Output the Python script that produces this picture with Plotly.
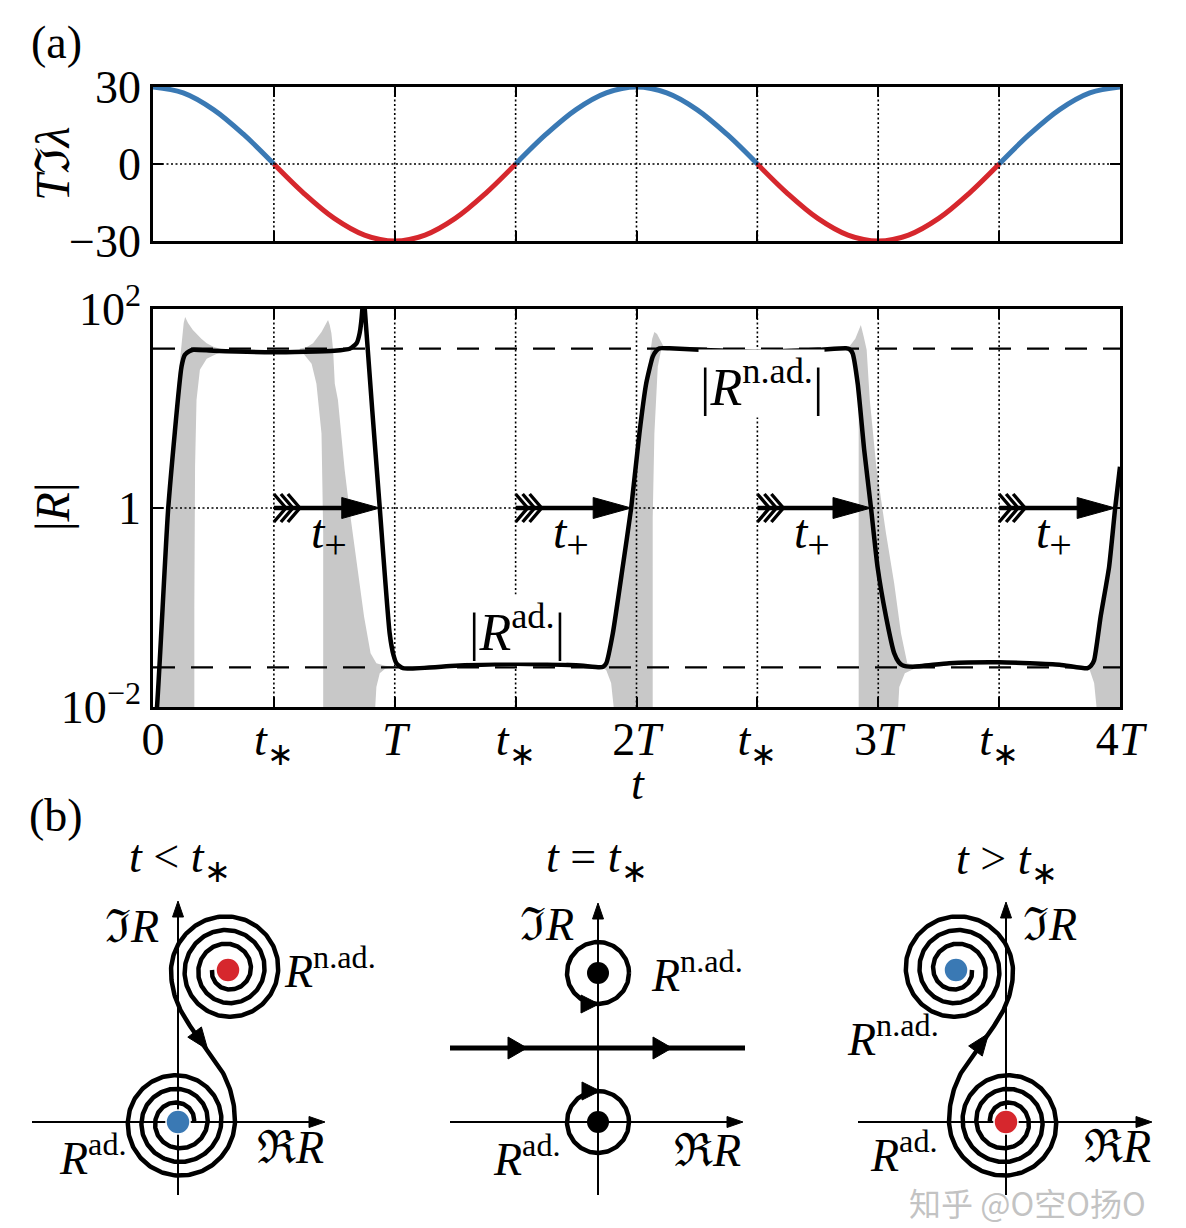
import numpy as np
import plotly.graph_objects as go

W, H = 1186, 1228
FONT = "Liberation Serif"
BLUE = "#3a79b4"
RED = "#d6272d"
GRAY = "#c8c8c8"

# ---------------- panel (a) top : T*Im(lambda) versus t (in units of T)
lam_t = [0, 0.125, 0.25, 0.375, 0.5, 0.625, 0.75, 0.875, 1.0,
         1.125, 1.25, 1.375, 1.5, 1.625, 1.75, 1.875, 2.0,
         2.125, 2.25, 2.375, 2.5, 2.625, 2.75, 2.875, 3.0,
         3.125, 3.25, 3.375, 3.5, 3.625, 3.75, 3.875, 4.0]
lam_val = [30, 27.7, 21.2, 11.5, 0, -11.5, -21.2, -27.7, -30,
           -27.7, -21.2, -11.5, 0, 11.5, 21.2, 27.7, 30,
           27.7, 21.2, 11.5, 0, -11.5, -21.2, -27.7, -30,
           -27.7, -21.2, -11.5, 0, 11.5, 21.2, 27.7, 30]

# ---------------- panel (a) bottom : |R| (log10 values)
R_t = [0.0, 0.015, 0.063, 0.118, 0.132, 0.150, 0.167, 0.25, 0.5, 0.75, 0.814,
       0.842, 0.855, 0.866, 0.871, 0.876, 0.938, 0.979, 0.995, 1.007, 1.034,
       1.25, 1.5, 1.75, 1.847, 1.862, 1.875, 1.902, 1.943, 1.978, 2.012, 2.04,
       2.067, 2.082, 2.095, 2.136, 2.26, 2.5, 2.75, 2.866, 2.882, 2.894, 2.915,
       2.942, 2.97, 2.997, 3.032, 3.066, 3.085, 3.1, 3.142, 3.293, 3.5, 3.75,
       3.865, 3.88, 3.893, 3.92, 3.955, 3.98, 4.0]
R_log = [-2.3, -2.05, 0.0, 1.42, 1.54, 1.575, 1.59, 1.58, 1.565, 1.58, 1.60,
         1.655, 1.76, 2.0, 2.3, 2.0, 0.0, -1.26, -1.48, -1.56, -1.61,
         -1.585, -1.565, -1.58, -1.60, -1.595, -1.56, -1.26, -0.59, 0.0, 0.75, 1.25,
         1.52, 1.58, 1.605, 1.605, 1.59, 1.57, 1.59, 1.605, 1.595, 1.555, 1.25,
         0.58, 0.0, -0.59, -1.09, -1.46, -1.55, -1.58, -1.595, -1.56, -1.55, -1.575,
         -1.61, -1.585, -1.53, -1.09, -0.59, 0.0, 0.415]
R_adiabatic = 0.025
R_nonadiabatic = 40

# grey bands (boundary outlines, t and log10|R|)
band1_t = [0.018, 0.06, 0.10, 0.118, 0.127, 0.133, 0.145, 0.165, 0.18, 0.20, 0.222,
           0.25, 0.277, 0.30, 0.30, 0.26, 0.222, 0.194, 0.18, 0.174, 0.171, 0.171]
band1_l = [-2.1, 0.0, 1.2, 1.65, 1.86, 1.92, 1.86, 1.79, 1.75, 1.70, 1.655,
           1.62, 1.60, 1.59, 1.58, 1.545, 1.50, 1.39, 1.085, 0.415, -1.0, -2.1]
band2_t = [0.704, 0.704, 0.697, 0.676, 0.656, 0.621, 0.607, 0.607, 0.635, 0.662,
           0.697, 0.712, 0.724, 0.731, 0.738, 0.745, 0.752, 0.765, 0.793, 0.812,
           0.843, 0.873, 0.9, 0.924, 0.96, 1.0, 0.96, 0.938, 0.924, 0.917]
band2_l = [-2.1, -0.25, 0.75, 1.25, 1.45, 1.555, 1.575, 1.60, 1.615, 1.655,
           1.77, 1.84, 1.89, 1.84, 1.756, 1.59, 1.25, 1.085, 0.38, 0.0,
           -0.55, -1.09, -1.46, -1.56, -1.585, -1.595, -1.615, -1.66, -1.80, -2.1]
band3_t = [1.91, 1.895, 1.875, 1.86, 1.875, 1.902, 1.943, 1.978, 2.012, 2.04,
           2.055, 2.065, 2.074, 2.085, 2.095, 2.11, 2.116, 2.102, 2.088, 2.074,
           2.067, 2.067]
band3_l = [-2.1, -1.76, -1.63, -1.60, -1.57, -1.26, -0.59, 0.0, 0.75, 1.25,
           1.5, 1.7, 1.77, 1.75, 1.70, 1.63, 1.605, 1.59, 1.42, 0.75,
           -0.1, -2.1]
band4_t = [2.919, 2.919, 2.915, 2.905, 2.895, 2.88, 2.905, 2.918, 2.928, 2.94,
           2.952, 2.965, 2.992, 3.032, 3.066, 3.094, 3.12, 3.17, 3.11, 3.087, 3.08]
band4_l = [-2.1, 1.085, 1.3, 1.5, 1.57, 1.62, 1.70, 1.79, 1.84, 1.72,
           1.59, 1.085, 0.415, -0.255, -0.76, -1.26, -1.56, -1.59, -1.66, -1.80, -2.1]
band5_t = [3.86, 3.893, 3.92, 3.955, 3.98, 4.0, 4.0, 3.907, 3.893, 3.875]
band5_l = [-1.605, -1.53, -1.09, -0.59, 0.0, 0.415, -2.1, -2.1, -1.76, -1.63]

arrow_tstar = [0.5, 1.5, 2.5, 3.5]
arrow_tip = [0.938, 1.978, 2.97, 3.98]

x_tickvals = [0, 0.5, 1, 1.5, 2, 2.5, 3, 3.5, 4]
TS = "<i>t</i><sub>∗</sub>"
x_ticktext = ["0", TS, "<i>T</i>", TS, "2<i>T</i>", TS, "3<i>T</i>", TS, "4<i>T</i>"]
top_tickvals = [-30, 0, 30]
top_ticktext = ["−30", "0", "30"]
bot_tickvals = [0.01, 1, 100]
bot_ticktext = ["10<sup>−2</sup>", "1", "10<sup>2</sup>"]

# ---------------- geometry helpers
XL, XR = 153, 1120            # plot frame, pixels
TOP_Y0, TOP_Y1 = 87, 241
BOT_Y0, BOT_Y1 = 309, 707
PX_T = (XR - XL) / 4.0
PX_DEC = (BOT_Y1 - BOT_Y0) / 4.0


def px(x):
    return x / W


def py(y):
    return 1 - y / H


def dt(p):
    return p / PX_T


def fy(p):
    return 10 ** (p / PX_DEC)


fig = go.Figure()

# ---------- top panel curve, split by sign
bx, by, rx, ry = [], [], [], []
for i in range(len(lam_t) - 1):
    mid = lam_val[i] + lam_val[i + 1]
    tx, ty = (bx, by) if mid > 0 else (rx, ry)
    if tx and tx[-1] == lam_t[i]:
        tx.append(lam_t[i + 1]); ty.append(lam_val[i + 1])
    else:
        if tx:
            tx.append(None); ty.append(None)
        tx += [lam_t[i], lam_t[i + 1]]; ty += [lam_val[i], lam_val[i + 1]]
fig.add_trace(go.Scatter(x=bx, y=by, mode="lines", line=dict(color=BLUE, width=5, shape="spline"),
                         xaxis="x", yaxis="y", hoverinfo="skip"))
fig.add_trace(go.Scatter(x=rx, y=ry, mode="lines", line=dict(color=RED, width=5, shape="spline"),
                         xaxis="x", yaxis="y", hoverinfo="skip"))

# ---------- bottom panel
for bt, bl in [(band1_t, band1_l), (band2_t, band2_l), (band3_t, band3_l),
               (band4_t, band4_l), (band5_t, band5_l)]:
    fig.add_trace(go.Scatter(x=bt + [bt[0]], y=[10 ** v for v in bl] + [10 ** bl[0]],
                             mode="lines", fill="toself", fillcolor=GRAY,
                             line=dict(width=0, color=GRAY), xaxis="x2", yaxis="y2",
                             hoverinfo="skip"))
for lev in (R_nonadiabatic, R_adiabatic):
    fig.add_trace(go.Scatter(x=[0, 4], y=[lev, lev], mode="lines",
                             line=dict(color="black", width=2.2, dash="22px,16px"),
                             xaxis="x2", yaxis="y2", hoverinfo="skip"))
fig.add_trace(go.Scatter(x=R_t, y=[10 ** v for v in R_log], mode="lines",
                         line=dict(color="black", width=4.5, shape="spline", smoothing=0.5),
                         xaxis="x2", yaxis="y2", hoverinfo="skip"))

# arrows t_+
shx, shy, chx, chy = [], [], [], []
for ts, tip in zip(arrow_tstar, arrow_tip):
    shx += [ts, tip - dt(30), None]; shy += [1, 1, None]
    for off in (0, 7, 14):
        chx += [ts + dt(off), ts + dt(off + 12), ts + dt(off), None]
        chy += [fy(14), 1, fy(-14), None]
    fig.add_trace(go.Scatter(x=[tip, tip - dt(38), tip - dt(38), tip],
                             y=[1, fy(10.5), fy(-10.5), 1], mode="lines", fill="toself",
                             fillcolor="black", line=dict(color="black", width=1),
                             xaxis="x2", yaxis="y2", hoverinfo="skip"))
fig.add_trace(go.Scatter(x=shx, y=shy, mode="lines", line=dict(color="black", width=4.5),
                         xaxis="x2", yaxis="y2", hoverinfo="skip"))
fig.add_trace(go.Scatter(x=chx, y=chy, mode="lines", line=dict(color="black", width=3.4),
                         xaxis="x2", yaxis="y2", hoverinfo="skip"))

# ---------------- panel (b): schematic, drawn in pixel coordinates
def spiral(c, r0, r1, th0, th1, n=600):
    th = np.linspace(th0, th1, n)
    r = np.linspace(r0, r1, n)
    return c[0] + r * np.cos(th), c[1] - r * np.sin(th)


def bez(p, s):
    s = np.asarray(s, dtype=float)
    a, b, c, d = [np.array(q, dtype=float) for q in p]
    pt = ((1 - s) ** 3)[..., None] * a + (3 * (1 - s) ** 2 * s)[..., None] * b \
        + (3 * (1 - s) * s ** 2)[..., None] * c + (s ** 3)[..., None] * d
    return pt


def bez_d(p, s):
    a, b, c, d = [np.array(q, dtype=float) for q in p]
    return 3 * (1 - s) ** 2 * (b - a) + 6 * (1 - s) * s * (c - b) + 3 * s ** 2 * (d - c)


def tri(tip, d, L, w):
    d = np.array(d, float) / np.hypot(*d)
    n = np.array([-d[1], d[0]])
    b = np.array(tip, float) - L * d
    p1, p2 = b + w * n, b - w * n
    return [tip[0], p1[0], p2[0], tip[0]], [tip[1], p1[1], p2[1], tip[1]]


def add_b(x, y, width=4.5, fill=False):
    fig.add_trace(go.Scatter(x=list(x), y=list(y), mode="lines",
                             fill="toself" if fill else None,
                             fillcolor="black" if fill else None,
                             line=dict(color="black", width=width),
                             xaxis="x3", yaxis="y3", hoverinfo="skip"))


def add_axes(ox, xl, xtip, ytip):
    oy = 1122
    add_b([ox, ox], [1195, ytip + 14], width=2)
    add_b([xl, xtip - 14], [oy, oy], width=2)
    tx, ty = tri((ox, ytip), (0, -1), 16, 5.5)
    add_b(tx, ty, width=1, fill=True)
    tx, ty = tri((xtip, oy), (1, 0), 16, 5.5)
    add_b(tx, ty, width=1, fill=True)


# left diagram t < t*
OL = (178, 1122)
UL = (OL[0] + 50, 970)
RO, RI = 57, 16
xa, ya = spiral(UL, RI, RO, -5 * np.pi, np.pi)
bz = [(UL[0] - RO, UL[1]), (UL[0] - RO, UL[1] + 65), (OL[0] + RO, OL[1] - 72), (OL[0] + RO, OL[1])]
bpts = bez(bz, np.linspace(0, 1, 80))
xc, yc = spiral(OL, RO, RI, 0, -6 * np.pi)
path_x = np.concatenate([xa, bpts[:, 0], xc])
path_y = np.concatenate([ya, bpts[:, 1], yc])

add_axes(OL[0], 32, 325, 901)
add_b(path_x, path_y)
s_arr = 0.55
tipL = bez(bz, s_arr)
dL = bez_d(bz, s_arr)
tx, ty = tri(tipL, dL, 22, 8.5)
add_b(tx, ty, width=1, fill=True)

# right diagram t > t* (mirror image, reversed flow)
OR = (1006, 1122)
rpx = OR[0] - (path_x - OL[0])
add_axes(OR[0], 858, 1152, 902)
add_b(rpx, path_y)
s_arr_r = 0.42
tipR0 = bez(bz, s_arr_r)
dR0 = bez_d(bz, s_arr_r)
tipR = (OR[0] - (tipR0[0] - OL[0]), tipR0[1])
tx, ty = tri(tipR, (dR0[0], -dR0[1]), 22, 8.5)
add_b(tx, ty, width=1, fill=True)

# middle diagram t = t*
OM = (598, 1122)
add_axes(OM[0], 450, 743, 903)
th = np.linspace(0, 2 * np.pi, 200)
for cy in (973, OM[1]):
    add_b(OM[0] + 31 * np.cos(th), cy + 31 * np.sin(th))
add_b([450, 745], [1048, 1048], width=5)
for tipx in (527, 672):
    tx, ty = tri((tipx, 1048), (1, 0), 19, 11)
    add_b(tx, ty, width=1, fill=True)
for tip in ((599, 1004), (600, 1091)):
    tx, ty = tri(tip, (1, 0), 18, 9)
    add_b(tx, ty, width=1, fill=True)

# dots
fig.add_trace(go.Scatter(x=[UL[0], OL[0], OR[0] - 50, OR[0]], y=[UL[1], OL[1], 970, OR[1]],
                         mode="markers",
                         marker=dict(size=24, color=[RED, BLUE, BLUE, RED],
                                     line=dict(color="white", width=1.5)),
                         xaxis="x3", yaxis="y3", hoverinfo="skip"))
fig.add_trace(go.Scatter(x=[OM[0], OM[0]], y=[973, OM[1]], mode="markers",
                         marker=dict(size=22, color="black"),
                         xaxis="x3", yaxis="y3", hoverinfo="skip"))

# ---------------- axes
ax_common = dict(showline=True, linecolor="black", linewidth=2.5, mirror="allticks",
                 ticks="inside", ticklen=10, tickwidth=2, tickcolor="black",
                 showgrid=False, zeroline=False, fixedrange=True, automargin=False,
                 tickfont=dict(family=FONT, size=46, color="black"))
xdom = [XL / W, XR / W]
fig.update_layout(
    template="none",
    xaxis=dict(ax_common, domain=xdom, anchor="y", range=[0, 4], tickvals=x_tickvals,
               showticklabels=False),
    yaxis=dict(ax_common, domain=[py(TOP_Y1), py(TOP_Y0)], anchor="x", range=[-30, 30],
               tickvals=top_tickvals, ticktext=top_ticktext),
    xaxis2=dict(ax_common, domain=xdom, anchor="y2", range=[0, 4], tickvals=x_tickvals,
                ticktext=x_ticktext, ticklabelstandoff=-10),
    yaxis2=dict(ax_common, domain=[py(BOT_Y1), py(BOT_Y0)], anchor="x2", type="log",
                range=[-2, 2], tickvals=bot_tickvals, ticktext=bot_ticktext),
    xaxis3=dict(domain=[0, 1], anchor="y3", range=[0, W], visible=False, fixedrange=True,
                automargin=False),
    yaxis3=dict(domain=[0, py(780)], anchor="x3", range=[H, 780], visible=False,
                fixedrange=True, automargin=False),
    width=W, height=H, autosize=False, margin=dict(l=0, r=0, t=0, b=0, pad=0),
    paper_bgcolor="white", plot_bgcolor="rgba(0,0,0,0)", showlegend=False,
)

# grid lines (dotted, drawn above the grey bands)
dot = dict(color="black", width=1.6, dash="2px,2.5px")
shapes = []
for t in x_tickvals[1:-1]:
    for xr, yr in (("x", "y domain"), ("x2", "y2 domain")):
        shapes.append(dict(type="line", xref=xr, yref=yr, x0=t, x1=t, y0=0, y1=1,
                           line=dot, layer="above"))
shapes.append(dict(type="line", xref="x", yref="y", x0=0, x1=4, y0=0, y1=0, line=dot, layer="above"))
shapes.append(dict(type="line", xref="x2 domain", yref="y2 domain", x0=0, x1=1, y0=0.5, y1=0.5,
                   line=dot, layer="above"))
fig.update_layout(shapes=shapes)

# ---------------- text
ann = []


def text(x, y, s, size=42, angle=0, bg=None):
    d = dict(x=px(x), y=py(y), xref="paper", yref="paper", text=s, showarrow=False,
             xanchor="center", yanchor="middle", textangle=angle,
             font=dict(family=FONT, size=size, color="black"))
    if bg:
        d["bgcolor"] = bg
    ann.append(d)


NB = "&nbsp;"
text(56, 42, "(a)", 46)
text(56, 815, "(b)", 46)
text(52, 164, "<i>T</i>ℑ<i>λ</i>", 48, angle=-90)
text(52, 507, "|<i>R</i>|", 48, angle=-90)
text(638, 784, "<i>t</i>", 46)
for ts in arrow_tstar:
    text(XL + ts * PX_T + 55, 536, "<i>t</i><sub><span style='font-size:40px'>+</span></sub>", 48)
text(517, 628, "|<i>R</i><sup>ad.</sup>|", 52, bg="white")
text(761, 384, "|<i>R</i><sup>n.ad.</sup>|", 52, bg="white")

text(180, 860, "<i>t</i>" + NB + "&lt;" + NB + "<i>t</i><sub>∗</sub>", 46)
text(597, 860, "<i>t</i>" + NB + "=" + NB + "<i>t</i><sub>∗</sub>", 46)
text(1007, 862, "<i>t</i>" + NB + "&gt;" + NB + "<i>t</i><sub>∗</sub>", 46)
for (x, y) in ((132, 926), (547, 924), (1050, 924)):
    text(x, y, "ℑ<i>R</i>", 46)
for (x, y) in ((290, 1147), (707, 1150), (1117, 1146)):
    text(x, y, "ℜ<i>R</i>", 46)
for (x, y) in ((330, 968), (697, 972), (893, 1036)):
    text(x, y, "<i>R</i><sup>n.ad.</sup>", 46)
for (x, y) in ((93, 1155), (527, 1156), (904, 1152)):
    text(x, y, "<i>R</i><sup>ad.</sup>", 46)
ann.append(dict(x=px(1027), y=py(1202), xref="paper", yref="paper", text="知乎 @O空O扬O",
                showarrow=False, xanchor="center", yanchor="middle",
                font=dict(family="Noto Sans CJK SC", size=32, color="rgba(175,175,175,0.75)")))
fig.update_layout(annotations=ann)

fig.write_html("out.html", config={"displayModeBar": False},
               post_script="document.body.style.margin='0';")
